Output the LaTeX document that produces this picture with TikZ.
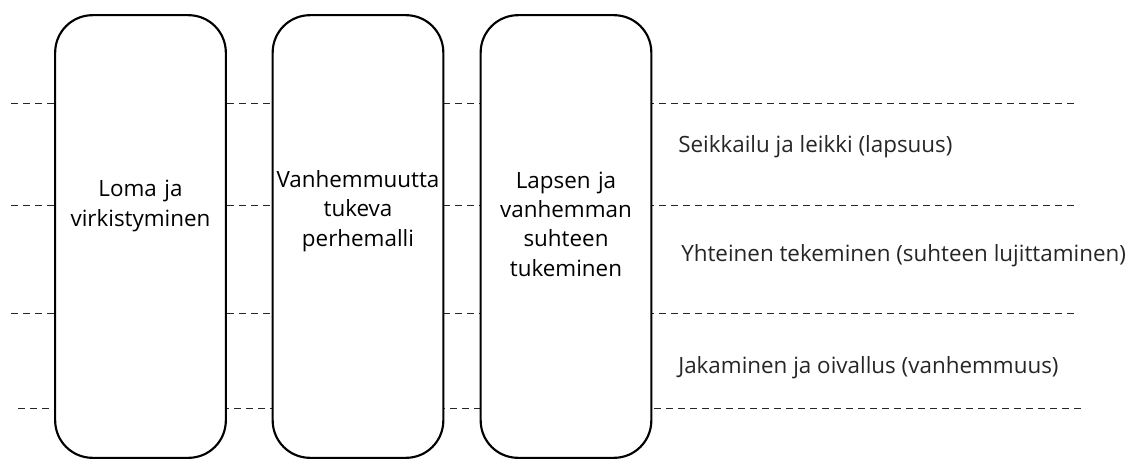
\documentclass[tikz,border=0pt]{standalone}
\usepackage{fontspec}
\setmainfont{Open Sans}
\usepackage{tikz}
\usetikzlibrary{calc,positioning}
\tikzset{
  pillar/.style={rectangle, draw=black, line width=1.6pt, fill=white, rounded corners=28pt, minimum width=128pt, minimum height=332pt, inner sep=0pt},
  pilltext/.style={text width=126pt, align=center, font=\fontsize{16.8}{22}\selectfont, inner sep=0pt},
  level/.style={draw=black!85, thin, dash pattern=on 5pt off 4pt},
  leveltext/.style={anchor=west, font=\fontsize{16.8}{20}\selectfont, text=black!85, inner sep=0pt},
}
\begin{document}
\begin{tikzpicture}[x=0.75pt, y=-0.75pt]
  \useasboundingbox (0,0) rectangle (1131,461);

  %dashed levels
  \coordinate (l1) at (11,103);   \coordinate (r1) at (1075,103);
  \coordinate (l2) at (11,205);   \coordinate (r2) at (1075,205);
  \coordinate (l3) at (11,313);   \coordinate (r3) at (1075,313);
  \coordinate (l4) at (18,408);   \coordinate (r4) at (1083,408);
  \foreach \i in {1,...,4}
    \draw[level] (l\i) -- (r\i);

  %pillars
  \node[pillar] (p1) at (140.5,236.5) {};
  \node[pillar] (p2) at (358,236.5) {};
  \node[pillar] (p3) at (566,236.5) {};

  \node[pilltext] (t1) at (140.5,206) {Loma ja\\virkistyminen};
  \node[pilltext] (t2) at (358,211) {Vanhemmuutta\\tukeva\\perhemalli};
  \node[pilltext] (t3) at (566,224) {Lapsen ja\\vanhemman\\suhteen\\tukeminen};

  %level names
  \node[leveltext] (s1) at (678,147) {Seikkailu ja leikki (lapsuus)};
  \node[leveltext] (s2) at (681,256) {Yhteinen tekeminen (suhteen lujittaminen)};
  \node[leveltext] (s3) at (678,368) {Jakaminen ja oivallus (vanhemmuus)};
\end{tikzpicture}
\end{document}
